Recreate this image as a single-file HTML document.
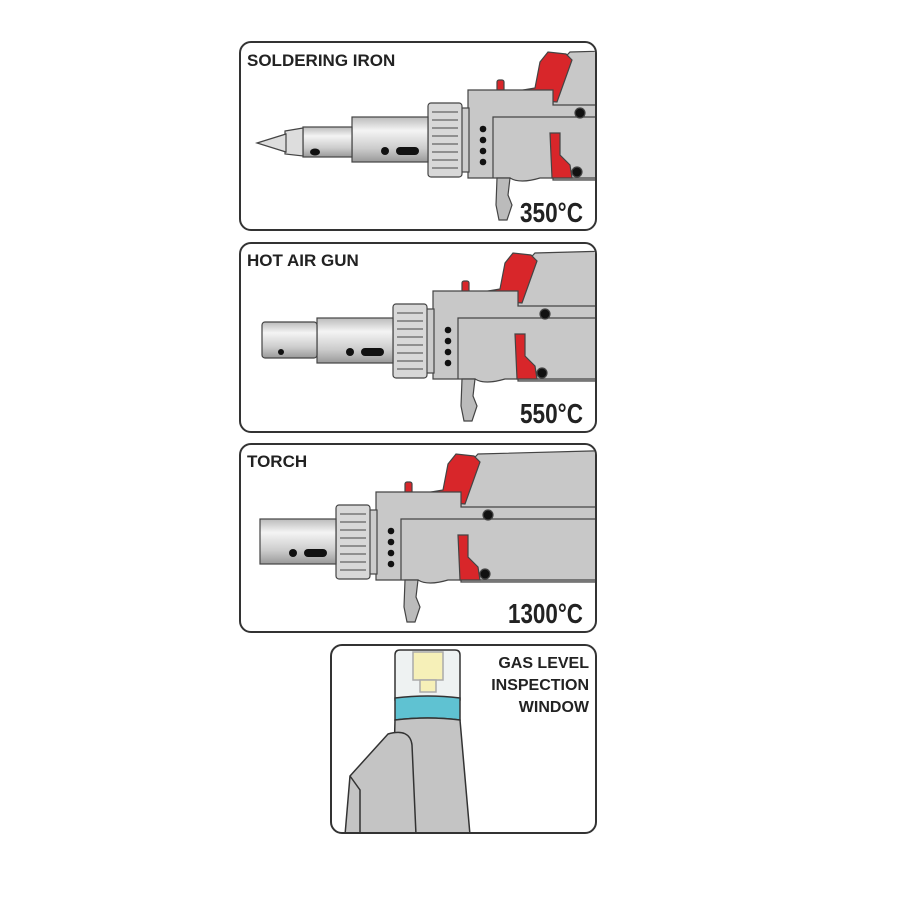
<!DOCTYPE html>
<html><head><style>body{margin:0;background:#fff}svg{display:block}text{font-family:"Liberation Sans",sans-serif;font-weight:bold;fill:#222}</style></head><body>
<svg width="900" height="900" viewBox="0 0 900 900">
<defs>
<clipPath id="c1"><rect x="241" y="43" width="354" height="186" rx="10"/></clipPath>
<clipPath id="c2"><rect x="241" y="244" width="354" height="187" rx="10"/></clipPath>
<clipPath id="c3"><rect x="241" y="445" width="354" height="186" rx="10"/></clipPath>
<clipPath id="c4"><rect x="332" y="646" width="263" height="186" rx="10"/></clipPath>
<linearGradient id="met" x1="0" y1="0" x2="0" y2="1"><stop offset="0" stop-color="#bbb"/><stop offset=".3" stop-color="#f4f4f4"/><stop offset=".7" stop-color="#ccc"/><stop offset="1" stop-color="#999"/></linearGradient>
<g id="body" stroke="#444" stroke-width="1.2">
 <path d="M553,90 L553,70 L570,52 L720,48 L720,180 L553,180Z" fill="#c8c8c8"/>
 <path d="M517,99 L517,91 L535,88 L540,62 L548,52 L566,54 L572,60 L557,102Z" fill="#d8262a"/>
 <rect x="497" y="80" width="7" height="13" rx="2" fill="#d8262a"/>
 <path d="M468,90 L553,90 L553,105 L720,105 L720,178 L540,178 Q520,184 510,178 L468,178Z" fill="#c8c8c8"/>
 <path d="M493,178 L493,117 L720,117" fill="none"/>
 <path d="M550,133 L560,133 L560,155 L570,165 L572,178 L552,178Z" fill="#d8262a"/>
 <circle cx="580" cy="113" r="5" fill="#111"/><circle cx="577" cy="172" r="5" fill="#111"/>
 <g fill="#111" stroke="none"><circle cx="483" cy="129" r="3.3"/><circle cx="483" cy="140" r="3.3"/><circle cx="483" cy="151" r="3.3"/><circle cx="483" cy="162" r="3.3"/></g>
 <path d="M497,178 L510,178 L508,195 L512,205 L507,220 L499,220 L496,205Z" fill="#bbb"/>
 <rect x="461" y="108" width="8" height="64" fill="#ccc"/>
 <rect x="428" y="103" width="34" height="74" rx="3" fill="#d8d8d8"/>
 <g stroke="#777" stroke-width="1.5"><line x1="432" y1="112" x2="458" y2="112"/><line x1="432" y1="120" x2="458" y2="120"/><line x1="432" y1="128" x2="458" y2="128"/><line x1="432" y1="136" x2="458" y2="136"/><line x1="432" y1="144" x2="458" y2="144"/><line x1="432" y1="152" x2="458" y2="152"/><line x1="432" y1="160" x2="458" y2="160"/><line x1="432" y1="168" x2="458" y2="168"/></g>
 <rect x="352" y="117" width="76" height="45" fill="url(#met)"/>
 <circle cx="385" cy="151" r="4" fill="#111" stroke="none"/><rect x="396" y="147" width="23" height="8" rx="4" fill="#111" stroke="none"/>
</g>
</defs>
<g fill="none" stroke="#333" stroke-width="2">
<rect x="240" y="42" width="356" height="188" rx="11"/>
<rect x="240" y="243" width="356" height="189" rx="11"/>
<rect x="240" y="444" width="356" height="188" rx="11"/>
<rect x="331" y="645" width="265" height="188" rx="11"/>
</g>
<g clip-path="url(#c1)"><use href="#body"/>
 <g stroke="#444" stroke-width="1.2"><rect x="303" y="127" width="49" height="30" fill="url(#met)"/><path d="M285,131 L303,128 L303,156 L285,154Z" fill="#ddd"/><path d="M257,143 L286,134 L286,152Z" fill="#ddd"/></g>
 <ellipse cx="315" cy="152" rx="5" ry="3.5" fill="#111"/></g>
<g clip-path="url(#c2)"><g transform="translate(-35,201)"><use href="#body"/>
 <rect x="297" y="121" width="55" height="36" rx="3" fill="url(#met)" stroke="#444" stroke-width="1.2"/><circle cx="316" cy="151" r="3" fill="#111"/></g></g>
<g clip-path="url(#c3)"><g transform="translate(-92,402)"><use href="#body"/></g></g>
<g clip-path="url(#c4)" stroke="#333" stroke-width="1.5">
 <path d="M395,700 L395,655 Q395,650 400,650 L455,650 Q460,650 460,655 L460,700Z" fill="#eef2f2"/>
 <rect x="413" y="652" width="30" height="28" fill="#f6f0b8" stroke="#aaa"/><rect x="420" y="680" width="16" height="12" fill="#f6f0b8" stroke="#aaa"/>
 <path d="M395,698 Q428,694 460,698 L460,720 Q428,716 395,720Z" fill="#5fc2d2"/>
 <path d="M395,720 Q428,716 460,720 L470,835 L392,835Z" fill="#c4c4c4"/>
 <path d="M350,776 L388,734 Q410,728 412,745 L416,835 L345,835Z" fill="#c4c4c4"/>
 <path d="M350,776 L360,790 L360,835" fill="none"/>
</g>
<text x="247" y="66" font-size="17">SOLDERING IRON</text>
<text x="247" y="266" font-size="17">HOT AIR GUN</text>
<text x="247" y="467" font-size="17">TORCH</text>
<text x="589" y="668" font-size="16" text-anchor="end">GAS LEVEL</text>
<text x="589" y="690" font-size="16" text-anchor="end">INSPECTION</text>
<text x="589" y="712" font-size="16" text-anchor="end">WINDOW</text>
<text x="520" y="222" font-size="28" textLength="63" lengthAdjust="spacingAndGlyphs">350°C</text>
<text x="520" y="423" font-size="28" textLength="63" lengthAdjust="spacingAndGlyphs">550°C</text>
<text x="508" y="623" font-size="28" textLength="75" lengthAdjust="spacingAndGlyphs">1300°C</text>
</svg>
</body></html>
